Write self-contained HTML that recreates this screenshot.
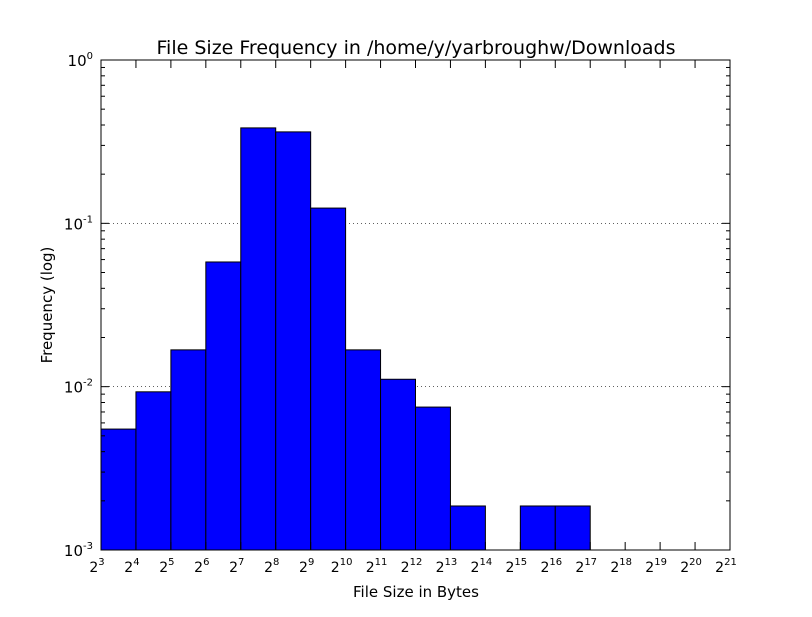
<!DOCTYPE html>
<html><head><meta charset="utf-8"><style>
body{margin:0;background:#fff;}
svg text{font-family:"DejaVu Sans","Liberation Sans",sans-serif;}
</style></head><body>
<svg id="chart" width="812" height="612" xmlns="http://www.w3.org/2000/svg">
<rect x="0" y="0" width="812" height="612" fill="#fff"/>
<text x="416" y="54" font-size="19" text-anchor="middle">File Size Frequency in /home/y/yarbroughw/Downloads</text>
<text x="416" y="597" font-size="15" text-anchor="middle">File Size in Bytes</text>
<text x="52" y="305" font-size="15" text-anchor="middle" transform="rotate(-90 52 305)">Frequency (log)</text>
<g id="grid"></g>
<g id="bars"></g>
<g id="ticks"></g>
<rect x="101" y="60" width="629" height="490" fill="none" stroke="#000" stroke-width="1"/>
</svg>
<script>
const exponents = [3,4,5,6,7,8,9,10,11,12,13,14,15,16,17,18,19,20];
const frequencies = [0.0055,0.0093,0.0168,0.058,0.384,0.363,0.124,0.0168,0.0111,0.0075,0.00186,0,0.00186,0.00186,0,0,0,0];
const xTickExps = [3,4,5,6,7,8,9,10,11,12,13,14,15,16,17,18,19,20,21];
const yTickExps = [-3,-2,-1,0];

const NS="http://www.w3.org/2000/svg";
const L=101,R=730,T=60,B=550;
const xMin=3,xMax=21,yMin=-3,yMax=0;
function xs(e){return L+(e-xMin)/(xMax-xMin)*(R-L);}
function ys(v){return B-(Math.log10(v)-yMin)/(yMax-yMin)*(B-T);}
function mk(tag,attrs,parent){const el=document.createElementNS(NS,tag);for(const k in attrs)el.setAttribute(k,attrs[k]);parent.appendChild(el);return el;}
const gBars=document.getElementById('bars'),gTicks=document.getElementById('ticks'),gGrid=document.getElementById('grid');

exponents.forEach((e,i)=>{
  const v=frequencies[i]; if(!(v>0))return;
  const y=ys(v);
  const r=mk('rect',{x:xs(e),y:y,width:xs(e+1)-xs(e),height:B-y,fill:'#0000ff',stroke:'#000','stroke-width':1},gBars);
  
  
});

yTickExps.forEach(p=>{
  const y=ys(Math.pow(10,p));
  if(p>yMin&&p<yMax){
    const g=mk('line',{x1:L,x2:R,y1:y,y2:y,stroke:'#000','stroke-width':0.6,'stroke-dasharray':'1,3'},gGrid);
    
    
  }
  mk('line',{x1:L,x2:L+8,y1:y,y2:y,stroke:'#000'},gTicks);
  mk('line',{x1:R,x2:R-8,y1:y,y2:y,stroke:'#000'},gTicks);
  const t=mk('text',{x:L-8,y:y+6,'font-size':15,'text-anchor':'end'},gTicks);
  
  
  t.textContent='10';
  const s=mk('tspan',{dy:-7,'font-size':10},t); s.textContent=String(p);
  if(p<yMax){for(let m=2;m<=9;m++){const ym=ys(m*Math.pow(10,p));
    mk('line',{x1:L,x2:L+4,y1:ym,y2:ym,stroke:'#000'},gTicks);
    mk('line',{x1:R,x2:R-4,y1:ym,y2:ym,stroke:'#000'},gTicks);}}
});

xTickExps.forEach(e=>{
  const x=xs(e);
  mk('line',{x1:x,x2:x,y1:B,y2:B-8,stroke:'#000'},gTicks);
  mk('line',{x1:x,x2:x,y1:T,y2:T+8,stroke:'#000'},gTicks);
  const t=mk('text',{x:x-4,y:572,'font-size':14,'text-anchor':'middle','font-family':'Liberation Serif, serif'},gTicks);
  
  
  t.textContent='2';
  const s=mk('tspan',{dy:-7,'font-size':10},t); s.textContent=String(e);
});
</script>
</body></html>
